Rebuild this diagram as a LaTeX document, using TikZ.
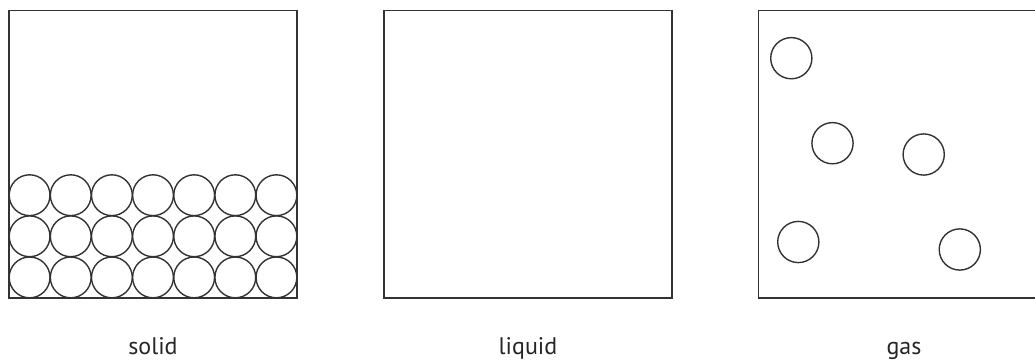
\documentclass[tikz,border=0pt]{standalone}
\usepackage{fontspec}
\setmainfont{PT Sans}
\usepackage{tikz}
\usetikzlibrary{positioning}
\definecolor{linegray}{rgb}{0.2,0.2,0.2}

\begin{document}
\begin{tikzpicture}[x=1pt, y=-1pt,
    box/.style={draw=linegray, line width=1.8pt, minimum width=288pt, minimum height=287.5pt, inner sep=0pt, outer sep=0pt},
    particle/.style={draw=linegray, line width=1.4pt},
    caption/.style={font=\fontsize{24}{28}\selectfont, text=black!85, anchor=base}
]
    \useasboundingbox (0,0) rectangle (1035,359);
    \clip (0,0) rectangle (1035,359);

    % Solid
    \node[box] (solid) at (153, 154.25) {};
    \foreach \i in {0,...,6} {
        \foreach \j in {0,1,2} {
            \draw[particle] (29.6+41.14*\i, 277.4-41.1*\j) circle (20.4);
        }
    }
    \node[caption] (solidlabel) at (153, 354) {solid};

    % Liquid
    \node[box] (liquid) at (528, 154.25) {};
    \node[caption] (liquidlabel) at (528, 354) {liquid};

    % Gas (box runs past the right edge)
    \node[box] (gas) at (902.5, 154.25) {};
    \foreach \x/\y in {791.3/58.2, 832.5/143.2, 923.7/154.5, 798.3/242, 959.8/249.5} {
        \draw[particle] (\x, \y) circle (20.6);
    }
    \node[caption] (gaslabel) at (904, 354) {gas};

\end{tikzpicture}
\end{document}
